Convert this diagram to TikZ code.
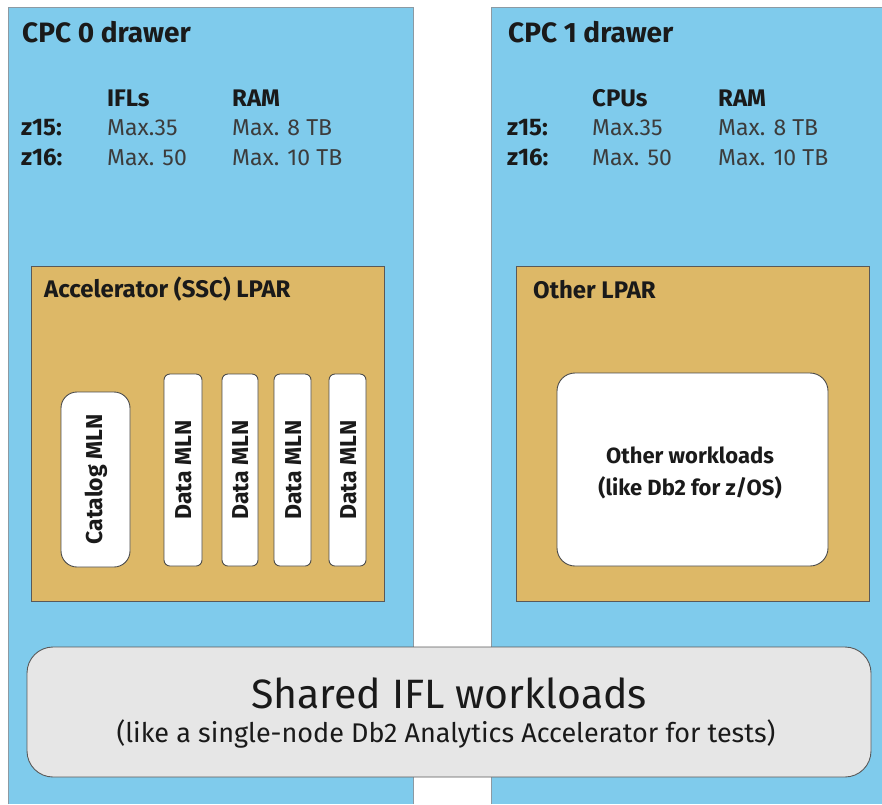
\documentclass[tikz,border=0pt]{standalone}
\usepackage{fontspec}
\setmainfont{Fira Sans}
\definecolor{drawerblue}{HTML}{7FCBEC}
\definecolor{lparorange}{HTML}{DDB867}
\definecolor{sharedgray}{HTML}{E6E6E6}
\definecolor{edgegray}{HTML}{8C9AA3}
\definecolor{txt}{HTML}{1A1A1A}
\begin{document}
\begin{tikzpicture}[x=1pt,y=-1pt,
  drawerfill/.style={fill=drawerblue},
  draweredge/.style={draw=edgegray,line width=0.9pt},
  lpar/.style={fill=lparorange,draw=black!65,line width=0.9pt},
  mln/.style={fill=white,draw=black!70,line width=0.9pt},
  head/.style={font=\bfseries\fontsize{28}{32}\selectfont,text=txt,anchor=base west,inner sep=0pt},
  colhead/.style={font=\bfseries\fontsize{24}{28}\selectfont,text=txt,anchor=base west,inner sep=0pt},
  val/.style={font=\fontsize{23}{27}\selectfont,text=txt!85,anchor=base west,inner sep=0pt},
  lparlabel/.style={font=\bfseries\fontsize{24}{28}\selectfont,text=txt,anchor=base west,inner sep=0pt},
  mlnlabel/.style={font=\bfseries\fontsize{23}{27}\selectfont,text=txt,rotate=90,inner sep=0pt}]
\useasboundingbox (0,0) rectangle (882,804);
\fill[white] (0,0) rectangle (882,804);
% drawers
\fill[drawerfill] (8,7) rectangle (413,804);
\draw[draweredge] (8,804) -- (8,7) -- (413,7) -- (413,804);
\fill[drawerfill] (491,7) rectangle (882,804);
\draw[draweredge] (491,804) -- (491,7) -- (882,7);
% left header
\node[head] (h0) at (22,42) {CPC 0 drawer};
\node[colhead] (c0a) at (107,106) {IFLs};
\node[colhead] (c0b) at (232,106) {RAM};
\node[colhead] (z150) at (21,135) {z15:};
\node[colhead] (z160) at (21,165) {z16:};
\node[val] (v01) at (107,135) {Max.35};
\node[val] (v02) at (232,135) {Max. 8 TB};
\node[val] (v03) at (107,165) {Max. 50};
\node[val] (v04) at (232,165) {Max. 10 TB};
% right header
\node[head] (h1) at (508,42) {CPC 1 drawer};
\node[colhead] (c1a) at (592,106) {CPUs};
\node[colhead] (c1b) at (718,106) {RAM};
\node[colhead] (z151) at (507,135) {z15:};
\node[colhead] (z161) at (507,165) {z16:};
\node[val] (v11) at (592,135) {Max.35};
\node[val] (v12) at (718,135) {Max. 8 TB};
\node[val] (v13) at (592,165) {Max. 50};
\node[val] (v14) at (718,165) {Max. 10 TB};
% LPARs
\draw[lpar] (31,266) rectangle (384,601);
\node[lparlabel] (l0) at (44,297) {Accelerator (SSC) LPAR};
\draw[lpar] (516,266) rectangle (869,601);
\node[lparlabel] (l1) at (533,298) {Other LPAR};
% MLNs
\draw[mln,rounded corners=16pt] (61,392) rectangle (130,567);
\node[mlnlabel] (cat) at (96,479.5) {Catalog MLN};
\draw[mln,rounded corners=6pt] (164,374) rectangle (202,566);
\node[mlnlabel] (dm1) at (184,470) {Data MLN};
\draw[mln,rounded corners=6pt] (222,374) rectangle (258,566);
\node[mlnlabel] (dm2) at (241,470) {Data MLN};
\draw[mln,rounded corners=6pt] (274,374) rectangle (311,566);
\node[mlnlabel] (dm3) at (293.5,470) {Data MLN};
\draw[mln,rounded corners=6pt] (329,374) rectangle (366,566);
\node[mlnlabel] (dm4) at (348.5,470) {Data MLN};
% other workloads
\draw[mln,rounded corners=18pt] (557,373) rectangle (828,566);
\node[font=\bfseries\fontsize{22}{32}\selectfont,text=txt,align=center] (ow) at (690,473) {Other workloads\\(like Db2 for z/OS)};
% shared
\draw[fill=sharedgray,draw=black!65,line width=0.9pt,rounded corners=26pt] (27,647) rectangle (871,777);
\node[font=\fontsize{41}{44}\selectfont,text=txt,anchor=base,inner sep=0pt] (sh1) at (449,708) {Shared IFL workloads};
\node[font=\fontsize{27}{30}\selectfont,text=txt,anchor=base,inner sep=0pt] (sh2) at (446,742) {(like a single-node Db2 Analytics Accelerator for tests)};
\end{tikzpicture}
\end{document}
